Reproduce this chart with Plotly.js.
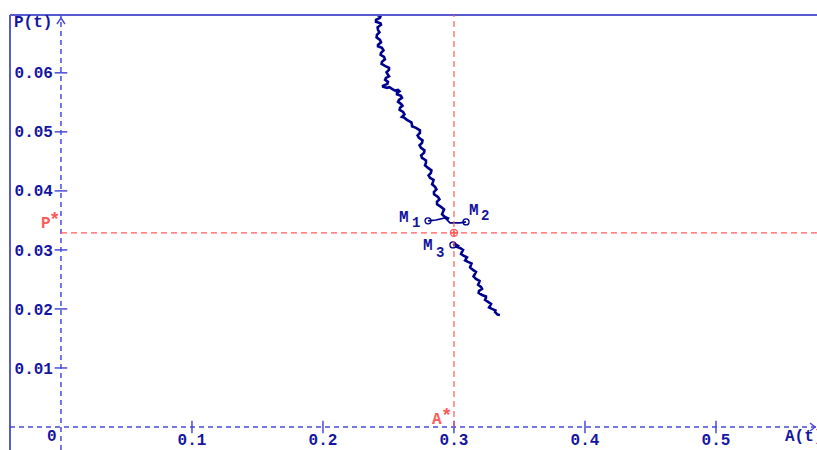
<!DOCTYPE html>
<html><head><meta charset="utf-8">
<script src="https://cdn.plot.ly/plotly-3.0.1.min.js"></script>
<style>html,body{margin:0;padding:0;background:#fff}#c{width:817px;height:450px}</style>
</head><body><div id="c"></div>
<script>
// Equilibrium values
const Astar = 0.3;
const Pstar = 0.0329;

// Trajectory 1 (descending branch, from top down to near M1/M2)
const traj1A = [0.2412,0.2439,0.2435,0.2405,0.2405,0.2439,0.2443,0.2417,0.2420,0.2431,
  0.2412,0.2409,0.2435,0.2443,0.2420,0.2420,0.2450,0.2462,0.2443,0.2440,
  0.2466,0.2473,0.2450,0.2447,0.2473,0.2504,0.2504,0.2485,0.2496,0.2504,
  0.2481,0.2474,0.2496,0.2492,0.2458,0.2459,0.2489,0.2508,0.2527,0.2550,
  0.2573,0.2584,0.2565,0.2565,0.2595,0.2603,0.2580,0.2573,0.2595,0.2607,
  0.2588,0.2585,0.2611,0.2622,0.2603,0.2618,0.2641,0.2675,0.2679,0.2680,
  0.2710,0.2740,0.2740,0.2722,0.2733,0.2760,0.2756,0.2737,0.2748,0.2775,
  0.2771,0.2749,0.2756,0.2786,0.2786,0.2779,0.2802,0.2828,0.2824,0.2806,
  0.2817,0.2844,0.2840,0.2833,0.2855,0.2866,0.2847,0.2848,0.2878,0.2889,
  0.2870,0.2871,0.2901,0.2924,0.2916,0.2909,0.2931,0.2954,0.2947];
const traj1P = [0.06983,0.06958,0.06932,0.06898,0.06864,0.06839,0.06814,0.06772,0.06729,0.06686,
  0.06644,0.06602,0.06559,0.06517,0.06475,0.06450,0.06424,0.06382,0.06339,0.06305,
  0.06271,0.06229,0.06186,0.06153,0.06119,0.06085,0.06051,0.06009,0.05966,0.05941,
  0.05915,0.05881,0.05847,0.05814,0.05780,0.05763,0.05746,0.05758,0.05729,0.05700,
  0.05712,0.05687,0.05661,0.05636,0.05610,0.05576,0.05542,0.05509,0.05475,0.05441,
  0.05407,0.05373,0.05339,0.05297,0.05254,0.05244,0.05203,0.05161,0.05119,0.05094,
  0.05068,0.05026,0.04983,0.04941,0.04898,0.04856,0.04814,0.04772,0.04729,0.04687,
  0.04644,0.04602,0.04559,0.04517,0.04475,0.04433,0.04390,0.04348,0.04305,0.04263,
  0.04220,0.04187,0.04153,0.04111,0.04068,0.04026,0.03983,0.03941,0.03898,0.03856,
  0.03814,0.03772,0.03729,0.03687,0.03644,0.03602,0.03559,0.03534,0.03508];

// Short links to M1 and M2
const linkM1A = [0.2947,0.2931,0.2863,0.2802];
const linkM1P = [0.03508,0.03542,0.03508,0.03492];
const linkM2A = [0.2947,0.2969,0.3046,0.3092];
const linkM2P = [0.03508,0.03458,0.03458,0.03475];

// Trajectory 2 (from M3 downwards)
const traj2A = [0.2992,0.3011,0.3031,0.3024,0.3046,0.3069,0.3061,0.3054,0.3076,0.3099,
  0.3092,0.3085,0.3107,0.3134,0.3130,0.3123,0.3145,0.3168,0.3160,0.3149,
  0.3168,0.3195,0.3191,0.3184,0.3206,0.3214,0.3191,0.3188,0.3214,0.3244,
  0.3244,0.3237,0.3260,0.3283,0.3275,0.3268,0.3290,0.3317,0.3313,0.3332,0.3351];
const traj2P = [0.03085,0.03095,0.03068,0.03051,0.03034,0.03000,0.02966,0.02932,0.02898,0.02873,
  0.02847,0.02822,0.02797,0.02772,0.02746,0.02704,0.02661,0.02627,0.02593,0.02551,
  0.02508,0.02475,0.02441,0.02407,0.02373,0.02339,0.02305,0.02271,0.02237,0.02212,
  0.02186,0.02153,0.02119,0.02085,0.02051,0.02026,0.02000,0.01975,0.01949,0.01904,0.01898];

// Labelled points
const ptNames = ["M","M","M"];
const ptSubs = ["1","2","3"];
const ptA = [0.2802,0.3092,0.2992];
const ptP = [0.03492,0.03475,0.03085];

// Tick values / labels
const xTicks = [0.1,0.2,0.3,0.4,0.5];
const xTickText = ["0.1","0.2","0.3","0.4","0.5"];
const yTicks = [0.01,0.02,0.03,0.04,0.05,0.06];
const yTickText = ["0.01","0.02","0.03","0.04","0.05","0.06"];

const NAVY = "#00008f";
const AX = "#4a4ad6";
const LBL = "#1515a0";
const RED = "#ff5a5a";
const FAM = "Liberation Mono, DejaVu Sans Mono, monospace";
const FONT = {family:FAM, size:16, color:LBL, weight:"bold"};
const SUBF = {family:FAM, size:14, color:LBL, weight:"bold"};
const REDF = {family:FAM, size:16, color:RED, weight:"bold"};
const REDS = {family:FAM, size:19, color:RED, weight:"bold"};

const xr = [-0.0389, 0.5771];
const yr = [-0.0039, 0.0698];

const traces = [
  {x:traj1A, y:traj1P, mode:"lines", line:{color:NAVY, width:2.6}, hoverinfo:"skip"},
  {x:linkM1A, y:linkM1P, mode:"lines", line:{color:NAVY, width:1.6}, hoverinfo:"skip"},
  {x:linkM2A, y:linkM2P, mode:"lines", line:{color:NAVY, width:1.6}, hoverinfo:"skip"},
  {x:traj2A, y:traj2P, mode:"lines", line:{color:NAVY, width:2.6}, hoverinfo:"skip"},
  {x:ptA, y:ptP, mode:"markers", marker:{symbol:"circle-open", size:6, color:NAVY, line:{width:1.3}}, hoverinfo:"skip"},
  {x:[Astar], y:[Pstar], mode:"markers", marker:{symbol:"circle-cross-open", size:7, color:RED, line:{width:1.3}}, hoverinfo:"skip"},
  {x:xTicks, y:xTicks.map(()=>0), mode:"markers", marker:{symbol:"line-ns-open", size:9, color:AX, line:{width:1.5}}, hoverinfo:"skip"},
  {x:yTicks.map(()=>0), y:yTicks, mode:"markers", marker:{symbol:"line-ew-open", size:9, color:AX, line:{width:1.5}}, hoverinfo:"skip"}
];

const yPos = (0 - xr[0])/(xr[1]-xr[0]);
const xPos = (0 - yr[0])/(yr[1]-yr[0]);

const ann = [
  {text:"P(t)", xref:"paper", yref:"paper", x:0, y:1, xanchor:"left", yanchor:"middle", xshift:2, yshift:-8, showarrow:false, font:FONT},
  {text:"A(t)", xref:"paper", yref:"y", x:0.9603, y:0, xanchor:"left", yanchor:"middle", xshift:-2, yshift:-10, showarrow:false, font:FONT},
  {text:"0", xref:"x", yref:"y", x:0, y:0, xanchor:"center", yanchor:"middle", xshift:-9, yshift:-10, showarrow:false, font:FONT},
  {text:"P", xref:"x", yref:"y", x:0, y:Pstar, xanchor:"center", yanchor:"middle", xshift:-15, yshift:9, showarrow:false, font:REDF},
  {text:"*", xref:"x", yref:"y", x:0, y:Pstar, xanchor:"center", yanchor:"middle", xshift:-6, yshift:13, showarrow:false, font:REDS},
  {text:"A", xref:"x", yref:"y", x:Astar, y:0, xanchor:"center", yanchor:"middle", xshift:-17, yshift:7, showarrow:false, font:REDF},
  {text:"*", xref:"x", yref:"y", x:Astar, y:0, xanchor:"center", yanchor:"middle", xshift:-7, yshift:11, showarrow:false, font:REDS}
];
const mShift = [[-24,3,-12,-2],[8,11,19,6],[-25,-1,-13,-8]];
for (let i=0;i<ptNames.length;i++){
  ann.push({text:ptNames[i], xref:"x", yref:"y", x:ptA[i], y:ptP[i], xanchor:"center", yanchor:"middle", xshift:mShift[i][0], yshift:mShift[i][1], showarrow:false, font:FONT});
  ann.push({text:ptSubs[i], xref:"x", yref:"y", x:ptA[i], y:ptP[i], xanchor:"center", yanchor:"middle", xshift:mShift[i][2], yshift:mShift[i][3], showarrow:false, font:SUBF});
}

const layout = {
  width:817, height:450,
  margin:{l:10, r:0, t:15, b:0, pad:0},
  paper_bgcolor:"#fff", plot_bgcolor:"#fff",
  showlegend:false,
  xaxis:{range:xr, showgrid:false, zeroline:false, showline:false, ticks:"",
         tickvals:xTicks, ticktext:xTickText, tickfont:FONT,
         anchor:"free", position:xPos, ticklabelstandoff:1, fixedrange:true},
  yaxis:{range:yr, showgrid:false, zeroline:false, showline:false, ticks:"",
         tickvals:yTicks, ticktext:yTickText, tickfont:FONT,
         anchor:"free", position:yPos, ticklabelstandoff:8, fixedrange:true},
  shapes:[
    {type:"line", xref:"paper", yref:"paper", x0:0, x1:0, y0:0, y1:1, line:{color:"#5a5ad0", width:2}},
    {type:"line", xref:"paper", yref:"paper", x0:0, x1:1, y0:1, y1:1, line:{color:"#5a5ad0", width:2}},
    {type:"line", xref:"paper", yref:"y", x0:0, x1:1, y0:0, y1:0, line:{color:AX, width:1.5, dash:"5px,4px"}},
    {type:"line", xref:"x", yref:"paper", x0:0, x1:0, y0:0, y1:1, line:{color:AX, width:1.5, dash:"5px,4px"}},
    {type:"line", xref:"x", yref:"paper", x0:Astar, x1:Astar, y0:xPos, y1:1, line:{color:RED, width:1.2, dash:"6px,4px"}},
    {type:"line", xref:"x", yref:"y", x0:0, x1:xr[1], y0:Pstar, y1:Pstar, line:{color:RED, width:1.2, dash:"6px,4px"}},
    {type:"path", xref:"x", yref:"paper", xsizemode:"pixel", ysizemode:"pixel", xanchor:0, yanchor:1,
     path:"M-4,-9 L0,-3 L4,-9", line:{color:AX, width:1.5}},
    {type:"path", xref:"paper", yref:"y", xsizemode:"pixel", ysizemode:"pixel", xanchor:1, yanchor:0,
     path:"M-7,4 L-2,0 L-7,-4", line:{color:AX, width:1.5}}
  ],
  annotations:ann
};

Plotly.newPlot("c", traces, layout, {displayModeBar:false, staticPlot:true});
</script>
</body></html>
